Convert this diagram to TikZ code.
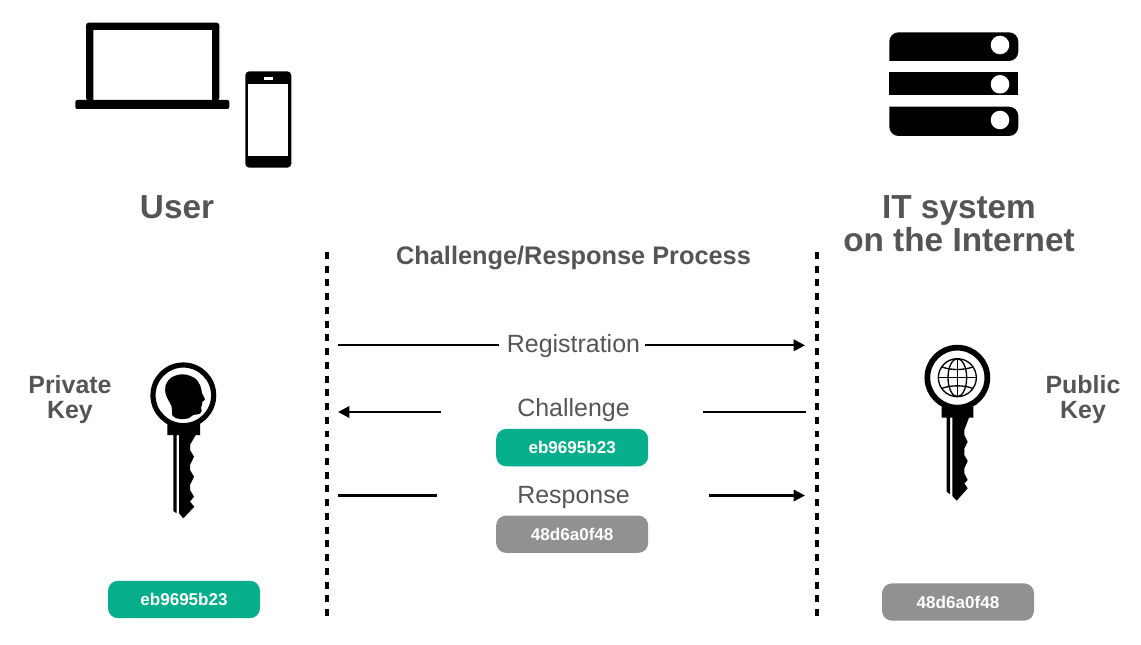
\documentclass[tikz,border=0pt]{standalone}
\usepackage{fontspec}
\setmainfont{Liberation Sans}
\usepackage{tikz}
\usetikzlibrary{arrows.meta, positioning}
\definecolor{labelgray}{HTML}{555555}
\definecolor{tokengreen}{HTML}{06AE8B}
\definecolor{tokengray}{HTML}{919191}
\tikzstyle{token} = [rectangle, rounded corners=7.5pt, minimum width=114pt, minimum height=28pt, inner sep=0pt, text=white, font=\fontsize{12.8}{15}\selectfont\bfseries]
\tikzstyle{heading} = [align=center, text=labelgray, font=\fontsize{25}{24.75}\selectfont\bfseries]
\tikzstyle{keylabel} = [align=center, text=labelgray, font=\fontsize{18.7}{18.75}\selectfont\bfseries]
\tikzstyle{step label} = [text=labelgray, inner sep=0pt, font=\fontsize{18.7}{22}\selectfont]
\tikzstyle{arrow} = [line width=1.7pt, -{Triangle[length=8.5pt,width=8.5pt]}]
\tikzstyle{plain} = [line width=1.7pt]
\tikzstyle{boundary} = [line width=2.7pt, dash pattern=on 5.2pt off 5.1pt]

\begin{document}
\begin{tikzpicture}[x=0.75pt, y=-0.75pt]
  \useasboundingbox (0,0) rectangle (1141,645);

  % Laptop
  \fill[black, rounded corners=2pt, even odd rule] (86,100.5) -- (86,22.7) -- (219.3,22.7) -- (219.3,100.5) -- cycle
    [sharp corners] (93.3,100.5) -- (93.3,30) -- (212,30) -- (212,100.5) -- cycle;
  \fill[black, rounded corners=1.5pt] (75.3,100) -- (75.3,109) -- (229.3,109) -- (229.3,100) -- cycle;
  % Phone
  \fill[black, rounded corners=3pt] (245.3,71.3) rectangle (291.3,167.7);
  \fill[white] (248.3,84.3) rectangle (288.3,156);
  \fill[white] (264,77.3) rectangle (273.3,79.7);

  % Server
  \fill[black, rounded corners=7pt] (889.3,61) -- (889.3,32.3) -- (1018.3,32.3) -- (1018.3,61) [sharp corners] -- cycle;
  \fill[black] (889.3,72.3) rectangle (1018.3,95.3);
  \fill[black, rounded corners=7pt] (889.3,106.7) -- (889.3,136) -- (1018.3,136) -- (1018.3,106.7) [sharp corners] -- cycle;
  \foreach \y in {45,84.3,120}
    \fill[white] (1000,\y) circle (9.3);

  % Headings
  \node[heading] (user) at (177,207.5) {User};
  \node[heading] (system) at (959,223.5) {IT system\\on the Internet};
  \node[text=labelgray, font=\fontsize{19}{22}\selectfont\bfseries] (process) at (573.5,258) {Challenge/Response Process};

  % Boundaries
  \coordinate (userTop) at (327,252);
  \coordinate (userEnd) at (327,618);
  \coordinate (systemTop) at (817,252);
  \coordinate (systemEnd) at (817,618);
  \draw[boundary] (userTop) -- (userEnd);
  \draw[boundary] (systemTop) -- (systemEnd);

  % Private key
  \node[keylabel] (private) at (70,400) {Private\\Key};
  \begin{scope}[shift={(130,350)}, scale=1/3]
    \draw[line width=3.9pt] (160,136) circle (91);
    \fill[black] (112,220) -- (112,255) -- (130,255) -- (130,483) -- (140,490) -- (140,255) -- (147,255) -- (147,490) -- (160,505)
      -- (193,470) -- (180,455) -- (192,440) -- (180,420) -- (180,405) -- (192,380) -- (180,360) -- (180,345) -- (192,320)
      -- (180,300) -- (180,285) -- (197,255) -- (210,255) -- (210,220) -- cycle;
    \fill[black] plot[smooth cycle, tension=0.6] coordinates {(128,198) (125,170) (108,135) (107,105) (125,82) (160,73) (195,85) (212,110) (216,130) (225,148) (217,155) (216,165) (213,172) (215,182) (208,192) (190,195) (175,205) (150,207)};
  \end{scope}

  % Public key
  \node[keylabel] (public) at (1083,400) {Public\\Key};
  \begin{scope}[shift={(905,335)}, scale=1/3]
    \draw[line width=4.3pt] (157,128) circle (90);
    \fill[black] (110,215) -- (110,248) -- (125,248) -- (125,470) -- (135,478) -- (135,248) -- (142,248) -- (142,483) -- (155,497)
      -- (188,460) -- (178,445) -- (188,435) -- (178,415) -- (178,400) -- (188,378) -- (178,360) -- (178,340) -- (188,320)
      -- (178,300) -- (178,285) -- (192,248) -- (205,248) -- (205,215) -- cycle;
    % Globe
    \begin{scope}[line width=1pt, shift={(157,128)}]
      \draw (0,0) circle (57);
      \draw (0,0) ellipse (28 and 57);
      \draw (0,-57) -- (0,57);
      \draw (-57,0) -- (57,0);
      \draw (-46,-32) .. controls (-20,-22) and (20,-22) .. (46,-32);
      \draw (-46,32) .. controls (-20,22) and (20,22) .. (46,32);
    \end{scope}
  \end{scope}

  % Tokens held by each side
  \node[token, fill=tokengreen] (privateToken) at (184,599.5) {eb9695b23};
  \node[token, fill=tokengray] (publicToken) at (958,602) {48d6a0f48};

  % Registration
  \node[step label] (registration) at (573.5,346) {Registration};
  \coordinate (regStart) at (338,345.3);
  \coordinate (regOut) at (499,345.3);
  \coordinate (regIn) at (645,345.3);
  \coordinate (regEnd) at (805,345.3);
  \draw[plain] (regStart) -- (regOut);
  \draw[arrow] (regIn) -- (regEnd);

  % Challenge
  \node[step label] (challenge) at (573.5,410) {Challenge};
  \node[token, fill=tokengreen, below=5.1pt of challenge, xshift=-1pt] (challengeToken) {eb9695b23};
  \coordinate (chalFrom) at (805.5,412);
  \coordinate (chalOut) at (703,412);
  \coordinate (chalIn) at (441,412);
  \coordinate (chalTo) at (338,412);
  \draw[plain] (chalFrom) -- (chalOut);
  \draw[arrow] (chalIn) -- (chalTo);

  % Response
  \node[step label] (response) at (573.5,498) {Response};
  \node[token, fill=tokengray, below=4.4pt of response, xshift=-1pt] (responseToken) {48d6a0f48};
  \coordinate (respFrom) at (338,495.5);
  \coordinate (respOut) at (437,495.5);
  \coordinate (respIn) at (709,495.5);
  \coordinate (respTo) at (805,495.5);
  \draw[plain] (respFrom) -- (respOut);
  \draw[arrow] (respIn) -- (respTo);
\end{tikzpicture}
\end{document}
